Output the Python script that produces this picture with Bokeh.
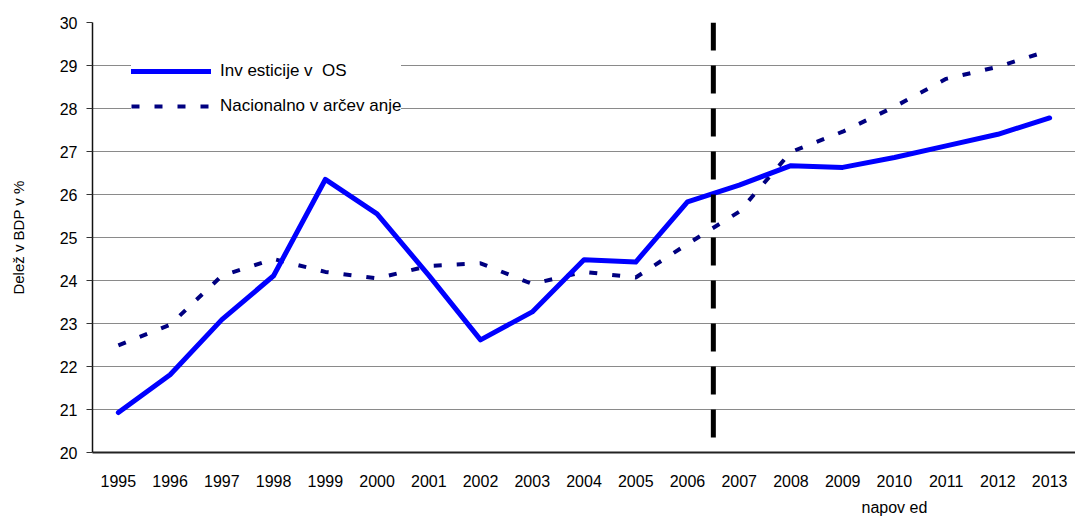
from bokeh.plotting import figure
from bokeh.models import FixedTicker, Legend, LegendItem, LinearAxis, ColumnDataSource
from bokeh.embed import file_html
from bokeh.resources import INLINE

years = [1995, 1996, 1997, 1998, 1999, 2000, 2001, 2002, 2003, 2004,
         2005, 2006, 2007, 2008, 2009, 2010, 2011, 2012, 2013]
investicije = [20.93, 21.81, 23.09, 24.11, 26.35, 25.55, 24.12, 22.62, 23.27, 24.48,
               24.43, 25.83, 26.22, 26.67, 26.63, 26.86, 27.13, 27.40, 27.78]
varcevanje = [22.49, 22.97, 24.11, 24.50, 24.20, 24.05, 24.34, 24.40, 23.92, 24.20,
              24.07, 24.85, 25.60, 26.99, 27.46, 28.04, 28.69, 28.97, 29.35]
label_inv = "Inv esticije v  OS"
label_var = "Nacionalno v arčev anje"
y_title = "Delež v BDP v %"
forecast_text = "napov ed"
forecast_text_year = 2010
forecast_boundary = 2006.5
boundary_top = 30
boundary_bottom = 20.23
y_ticks = list(range(20, 31))

FONT = "Liberation Sans"

p = figure(width=1075, height=518, output_backend="svg", toolbar_location=None,
           x_range=(1994.5, 2013.5), y_range=(20, 30),
           min_border_left=92, min_border_right=0, min_border_top=22, min_border_bottom=65)
p.outline_line_color = None
p.background_fill_color = "white"

# grid
p.xgrid.grid_line_color = None
p.ygrid.grid_line_color = "#8a8a8a"
p.ygrid.grid_line_width = 1
p.ygrid.ticker = FixedTicker(ticks=y_ticks)

# y axis
p.yaxis.ticker = FixedTicker(ticks=y_ticks)
p.yaxis.axis_line_color = "#111111"
p.yaxis.axis_line_width = 1.5
p.yaxis.major_tick_line_color = "#333333"
p.yaxis.major_tick_out = 6
p.yaxis.major_tick_in = 0
p.yaxis.minor_tick_line_color = None
p.yaxis.major_label_text_font = FONT
p.yaxis.major_label_text_font_size = "16px"
p.yaxis.major_label_text_color = "black"
p.yaxis.major_label_standoff = 9
p.yaxis.axis_label = y_title
p.yaxis.axis_label_text_font = FONT
p.yaxis.axis_label_text_font_size = "15px"
p.yaxis.axis_label_text_font_style = "normal"
p.yaxis.axis_label_text_color = "black"
p.yaxis.axis_label_standoff = 30

# x axis
p.xaxis.ticker = FixedTicker(ticks=years)
p.xaxis.axis_line_color = "#222222"
p.xaxis.axis_line_width = 2
p.xaxis.major_tick_line_color = None
p.xaxis.minor_tick_line_color = None
p.xaxis.major_label_text_font = FONT
p.xaxis.major_label_text_font_size = "16px"
p.xaxis.major_label_text_color = "black"
p.xaxis.major_label_standoff = 16

# second (label-only) axis for the forecast note
note_axis = LinearAxis(ticker=FixedTicker(ticks=[forecast_text_year]),
                       major_label_overrides={forecast_text_year: forecast_text})
note_axis.axis_line_color = None
note_axis.major_tick_line_color = None
note_axis.minor_tick_line_color = None
note_axis.major_label_text_font = FONT
note_axis.major_label_text_font_size = "16px"
note_axis.major_label_text_color = "black"
note_axis.major_label_standoff = 3
p.add_layout(note_axis, "below")

src = ColumnDataSource(dict(year=years, inv=investicije, var=varcevanje))

r_var = p.line("year", "var", source=src, line_color="#000080", line_width=4,
               line_dash="8 15")
r_inv = p.line("year", "inv", source=src, line_color="#0000FF", line_width=5,
               line_join="round", line_cap="round")

bsrc = ColumnDataSource(dict(x0=[forecast_boundary], y0=[boundary_top],
                             x1=[forecast_boundary], y1=[boundary_bottom]))
p.segment("x0", "y0", "x1", "y1", source=bsrc, line_color="black", line_width=5,
          line_dash="28 15")

legend = Legend(items=[LegendItem(label=label_inv, renderers=[r_inv]),
                       LegendItem(label=label_var, renderers=[r_var])],
                location="top_left")
legend.margin = 39
legend.padding = 6
legend.spacing = 15
legend.glyph_width = 80
legend.glyph_height = 20
legend.label_height = 20
legend.label_standoff = 9
legend.label_text_font = FONT
legend.label_text_font_size = "17px"
legend.label_text_color = "black"
legend.background_fill_color = "white"
legend.background_fill_alpha = 1
legend.border_line_color = None
p.add_layout(legend, "center")

open("out.html", "w").write(file_html(p, INLINE))
